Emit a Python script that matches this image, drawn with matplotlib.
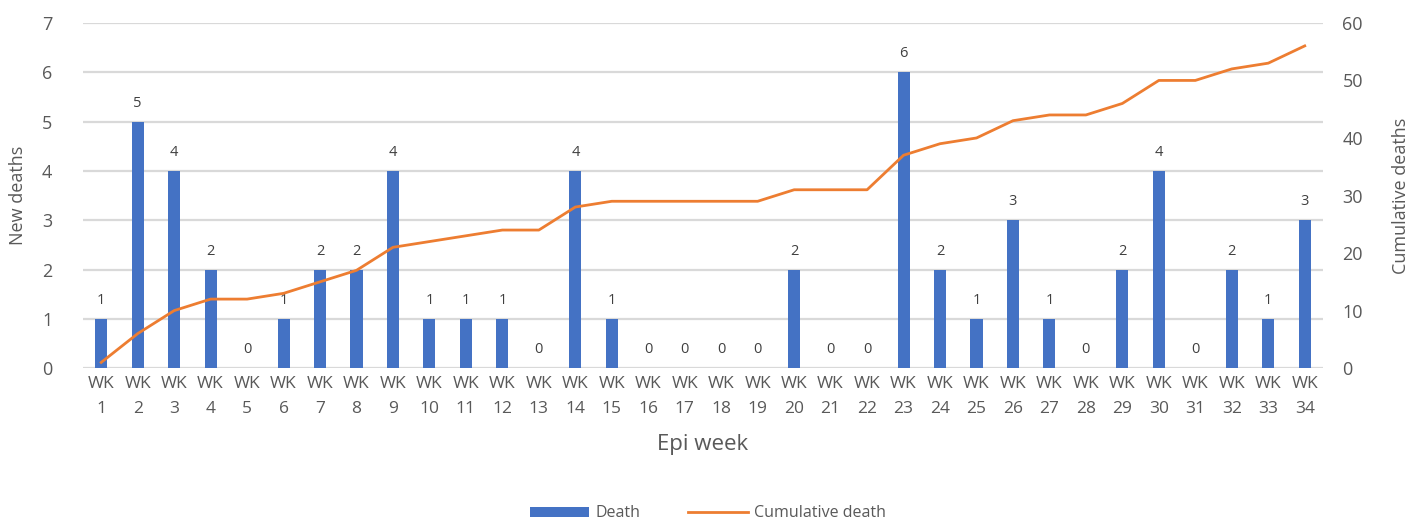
import numpy as np
import matplotlib.pyplot as plt
from matplotlib.patches import Patch
from matplotlib.lines import Line2D

plt.rcParams['font.family'] = ['Open Sans', 'DejaVu Sans']

weeks = [f"WK\n{i}" for i in range(1, 35)]
new_deaths = [1, 5, 4, 2, 0, 1, 2, 2, 4, 1, 1, 1, 0, 4, 1, 0, 0, 0, 0, 2,
              0, 0, 6, 2, 1, 3, 1, 0, 2, 4, 0, 2, 1, 3]
cumulative = np.cumsum(new_deaths)

blue = '#4472C4'
orange = '#ED7D31'
grey = '#595959'

fig = plt.figure(figsize=(14.16, 5.2), dpi=100)
ax = fig.add_axes([0.0586, 0.292, 0.8757, 0.664])
x = np.arange(len(weeks))

ax.bar(x, new_deaths, width=0.33, color=blue, zorder=2)
for xi, v in zip(x, new_deaths):
    ax.text(xi, v + 0.22, str(v), ha='center', va='bottom', fontsize=10.5, color='#404040')

ax.set_ylim(0, 7)
ax.set_xlim(-0.5, len(weeks) - 0.5)
ax.set_yticks(range(0, 8))
ax.yaxis.grid(True, color='#D9D9D9', linewidth=1.6, zorder=0)
ax.set_xticks(x)
ax.set_xticklabels(weeks, fontsize=12.5, color=grey, linespacing=1.75)
ax.tick_params(axis='y', labelsize=13, labelcolor=grey, length=0, pad=22)
ax.tick_params(axis='x', length=0, pad=6)
for s in ax.spines.values():
    s.set_visible(False)
ax.set_ylabel('New deaths', fontsize=13, color=grey)
ax.yaxis.set_label_coords(-0.045, 0.5)
ax.set_xlabel('Epi week', fontsize=16, color=grey, labelpad=12)

ax2 = ax.twinx()
ax2.plot(x, cumulative, color=orange, linewidth=2, zorder=3)
ax2.set_ylim(0, 60)
ax2.set_yticks(range(0, 70, 10))
ax2.tick_params(axis='y', labelsize=13, labelcolor=grey, length=0, pad=14)
for s in ax2.spines.values():
    s.set_visible(False)
ax2.set_ylabel('Cumulative deaths', fontsize=13, color=grey, rotation=90)
ax2.yaxis.set_label_coords(1.056, 0.5)

handles = [Patch(facecolor=blue, label='Death'),
           Line2D([], [], color=orange, linewidth=2, label='Cumulative death')]
fig.legend(handles=handles, loc='lower center', bbox_to_anchor=(0.5, -0.03), ncol=2,
           frameon=False, fontsize=11.5, labelcolor=grey, handlelength=3.7,
           handleheight=0.6, columnspacing=3, handletextpad=0.4)

fig.savefig('out.png', dpi=100)
